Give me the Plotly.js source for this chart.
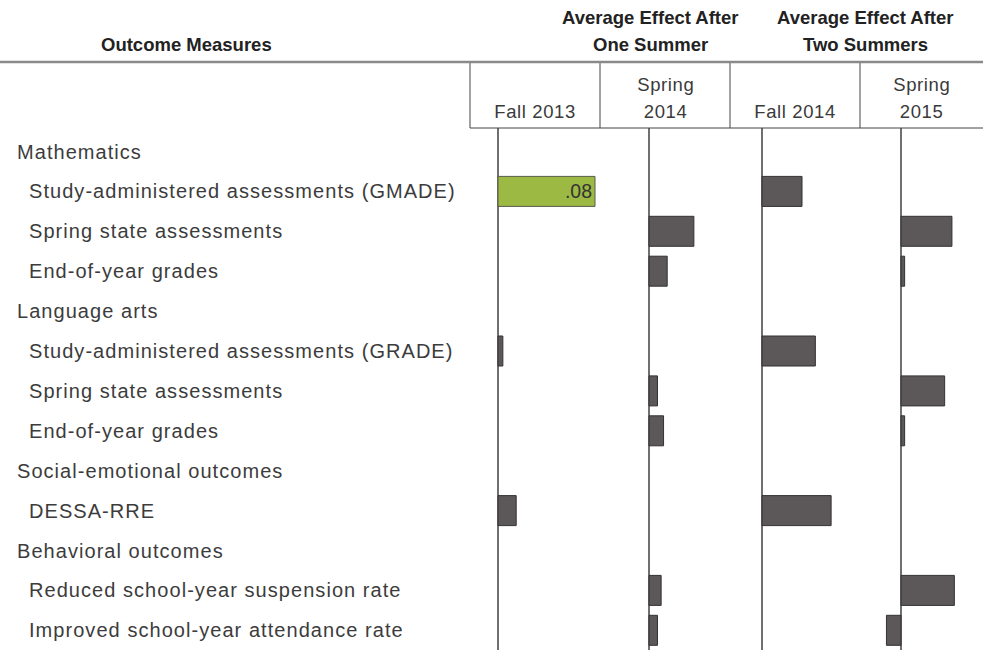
<!DOCTYPE html>
<html>
<head>
<meta charset="utf-8">
<script src="https://cdn.plot.ly/plotly-3.0.1.min.js"></script>
<style>html,body{margin:0;padding:0;background:#fff;}#chart{width:983px;height:650px;}</style>
</head>
<body>
<div id="chart"></div>
<script>
// ---- data ----
const rowLabels = [
  "Mathematics",
  "Study-administered assessments (GMADE)",
  "Spring state assessments",
  "End-of-year grades",
  "Language arts",
  "Study-administered assessments (GRADE)",
  "Spring state assessments",
  "End-of-year grades",
  "Social-emotional outcomes",
  "DESSA-RRE",
  "Behavioral outcomes",
  "Reduced school-year suspension rate",
  "Improved school-year attendance rate"
];
const rowIsGroup = [true,false,false,false,true,false,false,false,true,false,true,false,false];

const periodLabels = ["Fall 2013", "Spring<br>2014", "Fall 2014", "Spring<br>2015"];
const groupLabels = ["Average Effect After<br>One Summer", "Average Effect After<br>Two Summers"];
const stubHeader = "Outcome Measures";

const fall2013   = [null, 0.080, null,  null,  null, 0.004, null,  null,  null, 0.015, null, null,  null];
const spring2014 = [null, null,  0.037, 0.015, null, null,  0.007, 0.012, null, null,  null, 0.010, 0.007];
const fall2014   = [null, 0.033, null,  null,  null, 0.044, null,  null,  null, 0.057, null, null,  null];
const spring2015 = [null, null,  0.042, 0.003, null, null,  0.036, 0.003, null, null,  null, 0.044, -0.012];

const sig2013 = [false,true,false,false,false,false,false,false,false,false,false,false,false];
const sigS14  = [false,false,false,false,false,false,false,false,false,false,false,false,false];
const sigF14  = [false,false,false,false,false,false,false,false,false,false,false,false,false];
const sigS15  = [false,false,false,false,false,false,false,false,false,false,false,false,false];

// ---- layout helpers ----
const W = 983, H = 650;
const px = v => v / W;
const py = v => 1 - v / H;
const scale = 1212.5;          // px per effect-size unit
const cols = [ // [left, right, zero] in px
  [470, 600, 498],
  [600, 730, 649],
  [730, 860, 762],
  [860, 983, 901]
];
const rowTop = 151.5, rowStep = 39.9, plotTop = 128;
const FONT = "Liberation Sans, Arial, sans-serif";

const series = [fall2013, spring2014, fall2014, spring2015];
const sigs = [sig2013, sigS14, sigF14, sigS15];
const idx = rowLabels.map((_, i) => i);
const fmt = v => (v < 0 ? "-" : "") + Math.abs(v).toFixed(2).replace(/^0/, "");

const traces = series.map((vals, k) => ({
  type: "bar",
  orientation: "h",
  x: vals,
  y: idx,
  xaxis: k === 0 ? "x" : "x" + (k + 1),
  yaxis: "y",
  width: 30 / rowStep,
  marker: {
    color: vals.map((v, i) => sigs[k][i] ? "#9cb944" : "#5c5758"),
    line: {color: vals.map((v, i) => sigs[k][i] ? "#5a5a4a" : "#333333"), width: 1}
  },
  text: vals.map((v, i) => (sigs[k][i] && v !== null) ? fmt(v) : ""),
  textposition: "inside",
  insidetextanchor: "end",
  textfont: {family: FONT, size: 19.5, color: "#333"},
  constraintext: "none",
  hoverinfo: "x+y",
  showlegend: false,
  cliponaxis: false
}));

const layout = {
  width: W, height: H,
  margin: {l: 0, r: 0, t: 0, b: 0},
  paper_bgcolor: "#fff",
  plot_bgcolor: "rgba(0,0,0,0)",
  showlegend: false,
  bargap: 0,
  yaxis: {
    domain: [0, py(plotTop)],
    range: [(H - rowTop) / rowStep, (plotTop - rowTop) / rowStep],
    showticklabels: false, showgrid: false, zeroline: false, showline: false, ticks: "",
    fixedrange: true
  },
  annotations: [],
  shapes: []
};
const spacing = []; // letter-spacing per annotation

function addAnn(a, sp) { layout.annotations.push(a); spacing.push(sp || 0); }

cols.forEach((c, k) => {
  const name = k === 0 ? "xaxis" : "xaxis" + (k + 1);
  layout[name] = {
    domain: [px(c[0]), px(c[1])],
    range: [(c[0] - c[2]) / scale, (c[1] - c[2]) / scale],
    anchor: "y",
    showticklabels: false, showgrid: false, showline: false, ticks: "",
    zeroline: true, zerolinecolor: "#707070", zerolinewidth: 1.5,
    fixedrange: true
  };
  // column header (bottom-aligned lines)
  const lines = periodLabels[k].split("<br>");
  lines.forEach((ln, j) => {
    const yc = 111 - (lines.length - 1 - j) * 27;
    addAnn({
      xref: "paper", yref: "paper",
      x: px((c[0] + c[1]) / 2), y: py(yc),
      xanchor: "center", yanchor: "middle",
      text: ln, showarrow: false,
      font: {family: FONT, size: 18.5, color: "#3a3a3a"}
    }, 0.6);
  });
  // separators
  layout.shapes.push({type: "line", xref: "paper", yref: "paper",
    x0: px(c[0]), x1: px(c[0]), y0: py(62), y1: py(128),
    line: {color: "#444", width: 1}});
});

// box bottom line
layout.shapes.push({type: "line", xref: "paper", yref: "paper",
  x0: px(470), x1: 1, y0: py(128), y1: py(128), line: {color: "#444", width: 1}});
// gray rule under headers
layout.shapes.push({type: "line", xref: "paper", yref: "paper",
  x0: 0, x1: 1, y0: py(62), y1: py(62), line: {color: "#8a8a8a", width: 2.5}});

// group headers
const hdrFont = {family: FONT, size: 18.5, color: "#222"};
[[650, groupLabels[0]], [865, groupLabels[1]]].forEach(([xc, lab]) => {
  lab.split("<br>").forEach((ln, j) => {
    addAnn({xref: "paper", yref: "paper", x: px(xc), y: py(18 + j * 27),
      xanchor: "center", yanchor: "middle", text: "<b>" + ln + "</b>",
      showarrow: false, font: hdrFont});
  });
});
addAnn({xref: "paper", yref: "paper", x: px(186), y: py(44),
  xanchor: "center", yanchor: "middle", text: "<b>" + stubHeader + "</b>", showarrow: false, font: hdrFont});

// row labels
rowLabels.forEach((lab, i) => {
  addAnn({
    xref: "paper", yref: "y",
    x: px(rowIsGroup[i] ? 15 : 27), y: i,
    xanchor: "left", yanchor: "middle", align: "left",
    text: lab, showarrow: false,
    font: {family: FONT, size: 20, color: "#3c3c3c"}
  }, 1.05);
});

Plotly.newPlot("chart", traces, layout, {staticPlot: true, displayModeBar: false}).then(gd => {
  gd.querySelectorAll(".annotation").forEach(el => {
    const i = +el.getAttribute("data-index");
    if (spacing[i]) {
      el.querySelectorAll("text").forEach(t => t.style.letterSpacing = spacing[i] + "px");
    }
  });
});
</script>
</body>
</html>
